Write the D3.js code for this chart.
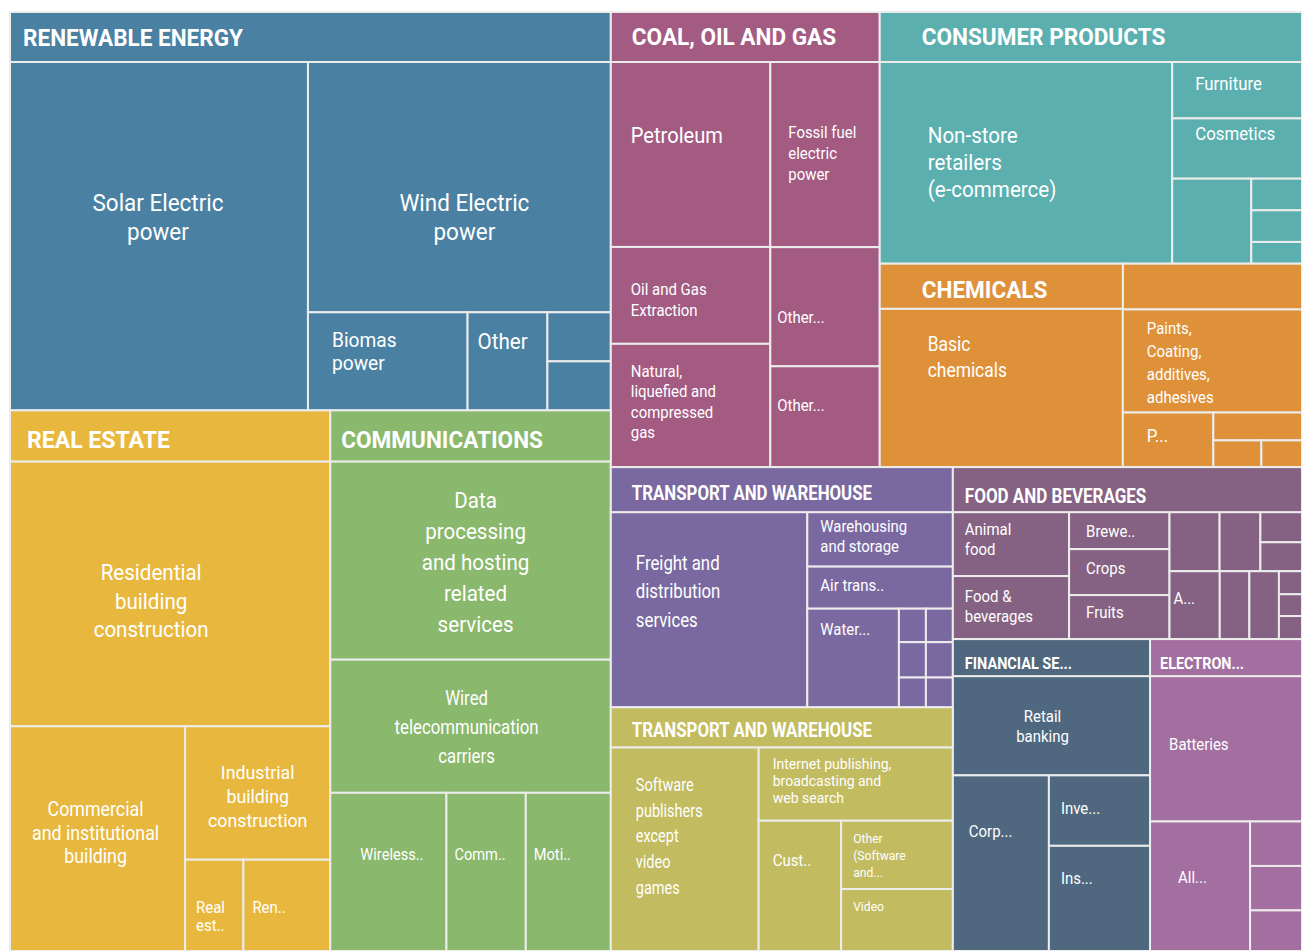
<!DOCTYPE html>
<meta charset="utf-8">
<style type="text/css">
  body { margin: 0; background: #fff; }
  text { font-family: Roboto, "Noto Sans", sans-serif; fill: #fff; }
  .head { font-weight: 700; }
</style>
<body>
<div class="chart"></div>
<script src="https://cdnjs.cloudflare.com/ajax/libs/d3/7.8.5/d3.min.js"></script>
<script>

// leaf values (area units), "\n" = line break of the label
var renewable = [["Solar Electric\npower", 1034], ["Wind Electric\npower", 755], ["Biomas\npower", 156], ["Other", 78], ["", 31], ["", 31]];
var realEstate = [["Residential\nbuilding\nconstruction", 845], ["Commercial\nand institutional\nbuilding", 392], ["Industrial\nbuilding\nconstruction", 193], ["Real\nest..", 53], ["Ren..", 79]];
var communications = [["Data\nprocessing\nand hosting\nrelated\nservices", 554], ["Wired\ntelecommunication\ncarriers", 372], ["Wireless..", 183], ["Comm..", 125], ["Moti..", 134]];
var coal = [["Petroleum", 294], ["Oil and Gas\nExtraction", 154], ["Natural,\nliquefied and\ncompressed\ngas", 196], ["Fossil fuel\nelectric\npower", 202], ["Other...", 130], ["Other...", 110]];
var consumer = [["Non-store\nretailers\n(e-commerce)", 588], ["Furniture", 73], ["Cosmetics", 78], ["", 67], ["", 16], ["", 16], ["", 11]];
var chemicals = [["Basic\nchemicals", 390], ["", 83], ["Paints,\nCoating,\nadditives,\nadhesives", 187], ["P...", 50], ["", 25], ["", 13], ["", 11]];
var transport1 = [["Freight and\ndistribution\nservices", 382], ["Warehousing\nand storage", 79], ["Air trans..", 61], ["Water...", 90], ["", 9], ["", 9.5], ["", 8], ["", 9], ["", 9.5], ["", 8]];
var transport2 = [["Software\npublishers\nexcept\nvideo\ngames", 300], ["Internet publishing,\nbroadcasting and\nweb search", 142], ["Cust..", 107], ["Other\n(Software\nand...", 76], ["Video", 69]];
var food = [["Animal\nfood", 74], ["Food &\nbeverages", 73], ["Brewe..", 37], ["Crops", 46], ["Fruits", 44], ["", 29.5], ["", 24], ["", 12.5], ["", 12], ["A...", 34], ["", 20], ["", 20], ["", 5.3], ["", 5], ["", 5.3]];
var financial = [["Retail\nbanking", 195], ["Corp...", 168], ["Inve...", 71], ["Ins...", 106]];
var electron = [["Batteries", 220], ["All...", 129], ["", 23], ["", 23], ["", 21]];

// sectors: key, title, leaves
var sectors = [
  ["renewable", "RENEWABLE ENERGY", renewable],
  ["realEstate", "REAL ESTATE", realEstate],
  ["communications", "COMMUNICATIONS", communications],
  ["coal", "COAL, OIL AND GAS", coal],
  ["consumer", "CONSUMER PRODUCTS", consumer],
  ["chemicals", "CHEMICALS", chemicals],
  ["transport1", "TRANSPORT AND WAREHOUSE", transport1],
  ["transport2", "TRANSPORT AND WAREHOUSE", transport2],
  ["food", "FOOD AND BEVERAGES", food],
  ["financial", "FINANCIAL SE...", financial],
  ["electron", "ELECTRON...", electron]
];

// arrangement: "h" = side by side, "v" = stacked, numbers = leaf index
var plans = {
  renewable: ["h", 0, ["v", 1, ["h", 2, 3, ["v", 4, 5]]]],
  realEstate: ["v", 0, ["h", 1, ["v", 2, ["h", 3, 4]]]],
  communications: ["v", 0, 1, ["h", 2, 3, 4]],
  coal: ["h", ["v", 0, 1, 2], ["v", 3, 4, 5]],
  consumer: ["h", 0, ["v", 1, 2, ["h", 3, ["v", 4, 5, 6]]]],
  chemicals: ["h", ["head", 0], ["v", 1, 2, ["h", 3, ["v", 4, ["h", 5, 6]]]]],
  transport1: ["h", 0, ["v", 1, 2, ["h", 3, ["v", 4, 5, 6], ["v", 7, 8, 9]]]],
  transport2: ["h", 0, ["v", 1, ["h", 2, ["v", 3, 4]]]],
  food: ["h", ["v", 0, 1], ["v", 2, 3, 4], ["v", ["h", 5, 6, ["v", 7, 8]], ["h", 9, 10, 11, ["v", 12, 13, 14]]]],
  financial: ["v", 0, ["h", 1, ["v", 2, 3]]],
  electron: ["v", 0, ["h", 1, ["v", 2, 3, 4]]]
};
var topPlan = ["h",
  ["v", "renewable", ["h", "realEstate", "communications"]],
  ["v", ["h", "coal", ["v", "consumer", "chemicals"]],
        ["h", ["v", "transport1", "transport2"], ["v", "food", ["h", "financial", "electron"]]]]];

// styles
var colors = {
  renewable: "#4a81a2", realEstate: "#e8b83e", communications: "#8ab86c",
  coal: "#a35b82", consumer: "#5bb0af", chemicals: "#de9139",
  transport1: "#7a69a0", transport2: "#c2bb5f", food: "#856283",
  financial: "#4f687f", electron: "#a36ea0"
};
// header: height, font size, left inset, horizontal squeeze, vertical nudge
var headStyle = {
  renewable: [50, 24, 13, 0.94, 0], realEstate: [51, 24, 17, 0.96, 3], communications: [51, 24, 11, 0.94, 3],
  coal: [50, 24, 21, 0.94, -1], consumer: [50, 24, 42, 0.94, -1], chemicals: [45, 24, 42, 0.94, 3],
  transport1: [45, 20, 21, 0.842, 3], transport2: [40, 20, 21, 0.842, 2], food: [45, 20, 12, 0.85, 6],
  financial: [37, 17, 12, 0.853, 5], electron: [37, 17, 10, 0.847, 5]
};
// leaf labels: anchor (m = centred, s = left), size, dx, dy of first line, line height, [squeeze]
var labelStyle = {
  renewable: [["m", 24, -1, 140, 29], ["m", 24, 5, 140, 29], ["s", 20.5, 24, 27, 23], ["s", 22, 10, 29, 20]],
  realEstate: [["m", 22, -19, 111, 28.5], ["m", 20, -2, 83, 23.5, 0.89], ["m", 19, 0, 46, 24], ["s", 16, 11, 48, 18], ["s", 16, 9, 48, 18]],
  communications: [["m", 22, 5, 39, 31], ["m", 20, -4, 38, 29, 0.84], ["s", 17, 30, 61, 20, 0.86], ["s", 17, 8, 61, 20, 0.86], ["s", 17, 8, 61, 20, 0.86]],
  coal: [["s", 21.5, 20, 73, 27], ["s", 16, 20, 42, 21], ["s", 16, 20, 27, 20.5], ["s", 16, 18, 70, 21], ["s", 16, 7, 70, 20], ["s", 16, 7, 39, 20]],
  consumer: [["s", 22, 48, 73, 27], ["s", 18, 23, 22, 20], ["s", 18, 23, 15, 20]],
  chemicals: [["s", 20, 48, 35, 26, 0.87], null, ["s", 16, 24, 19, 23], ["s", 18, 24, 23, 20]],
  transport1: [["s", 21, 25, 50, 28.5, 0.8], ["s", 16, 13, 14, 20], ["s", 16, 13, 19, 20], ["s", 16, 13, 21, 20]],
  transport2: [["s", 18, 25, 37, 25.8, 0.805], ["s", 15, 14, 16, 17], ["s", 16, 14, 40, 20], ["s", 13, 12, 18, 17], ["s", 13, 12, 17, 17]],
  food: [["s", 16, 12, 17, 20], ["s", 16, 12, 20, 20], ["s", 16, 17, 19, 20], ["s", 16, 17, 19, 20], ["s", 16, 17, 17, 20], null, null, null, null, ["s", 16, 4, 27, 20]],
  financial: [["m", 16, -9, 40, 20], ["s", 16, 16, 56, 20], ["s", 16, 12, 33, 20], ["s", 16, 12, 32, 20]],
  electron: [["s", 16, 19, 68, 20], ["s", 16, 28, 56, 20]]
};
var squeeze = 0.935;      // condensed look of the labels

var margin = {top: 12, right: 0, bottom: 0, left: 10};
var width = 1302 - margin.left - margin.right,
    height = 951 - margin.top - margin.bottom;

var sectorByKey = {};
sectors.forEach(function(s) { sectorByKey[s[0]] = s; });

function buildSector(key) {
  var s = sectorByKey[key], plan = plans[key];
  var inner = JSON.stringify(plan).indexOf('"head"') >= 0;
  function walk(p) {
    if (typeof p === "number") {
      return {name: s[2][p][0], value: s[2][p][1], sector: key, idx: p};
    }
    var kids = p.slice(1).map(walk);
    if (p[0] === "head") return {dir: "v", header: key, sector: key, children: kids};
    return {dir: p[0], sector: key, children: kids};
  }
  var node = walk(plan);
  if (!inner) node.header = key;
  return node;
}
function buildTop(p) {
  if (typeof p === "string") return buildSector(p);
  return {dir: p[0], children: p.slice(1).map(buildTop)};
}

var root = d3.hierarchy(buildTop(topPlan)).sum(function(d) { return d.value || 0; });

function headH(node) { return node.data.header ? headStyle[node.data.header][0] : 0; }

// fixed header height that a box carries along when it is stretched
function overhead(node) {
  if (node._oh !== undefined) return node._oh;
  var v = 0;
  if (node.children) {
    var hs = node.children.map(overhead);
    if (node.data.dir === "v") v = d3.sum(hs);
    else v = d3.sum(node.children, function(c, i) { return c.value * hs[i]; }) / node.value;
  }
  node._oh = headH(node) + v;
  return node._oh;
}

function tile(node, x0, y0, x1, y1) {
  var kids = node.children, W = x1 - x0, H = y1 - y0;
  var hs = kids.map(overhead);
  if (node.data.dir === "v") {
    var k = (H - d3.sum(hs)) / node.value, y = y0;
    kids.forEach(function(c, i) {
      c.x0 = x0; c.x1 = x1; c.y0 = y;
      y += hs[i] + k * c.value;
      c.y1 = i === kids.length - 1 ? y1 : y;
    });
  } else {
    var w = kids.map(function(c, i) { return c.value / (H - hs[i]); });
    var s = d3.sum(w), x = x0;
    kids.forEach(function(c, i) {
      c.y0 = y0; c.y1 = y1; c.x0 = x;
      x += W * w[i] / s;
      c.x1 = i === kids.length - 1 ? x1 : x;
    });
  }
}

d3.treemap()
  .size([width, height])
  .tile(tile)
  .paddingTop(headH)(root);

var svg = d3.select(".chart").append("svg")
    .attr("width", width + margin.left + margin.right)
    .attr("height", height + margin.top + margin.bottom)
  .append("g")
    .attr("transform", "translate(" + margin.left + "," + margin.top + ")");

var line = "#ececec";

// cells
svg.selectAll(".cell")
  .data(root.leaves())
  .enter().append("rect")
    .attr("class", "cell")
    .attr("x", function(d) { return d.x0; })
    .attr("y", function(d) { return d.y0; })
    .attr("width", function(d) { return d.x1 - d.x0; })
    .attr("height", function(d) { return d.y1 - d.y0; })
    .attr("fill", function(d) { return colors[d.data.sector]; })
    .attr("stroke", line)
    .attr("stroke-width", 2);

// headers
var heads = root.descendants().filter(function(d) { return d.data.header; });
svg.selectAll(".band")
  .data(heads)
  .enter().append("rect")
    .attr("class", "band")
    .attr("x", function(d) { return d.x0; })
    .attr("y", function(d) { return d.y0; })
    .attr("width", function(d) { return d.x1 - d.x0; })
    .attr("height", headH)
    .attr("fill", function(d) { return colors[d.data.header]; })
    .attr("stroke", line)
    .attr("stroke-width", 2);

svg.selectAll(".head")
  .data(heads)
  .enter().append("text")
    .attr("class", "head")
    .attr("transform", function(d) {
      var st = headStyle[d.data.header];
      return "translate(" + (d.x0 + st[2]) + "," + (d.y0 + st[0] / 2 + st[4]) + ") scale(" + st[3] + ",1)";
    })
    .attr("dy", "0.36em")
    .style("font-size", function(d) { return headStyle[d.data.header][1] + "px"; })
    .text(function(d) { return sectorByKey[d.data.header][1]; });

// leaf labels
var labelled = root.leaves().filter(function(d) {
  var ls = labelStyle[d.data.sector][d.data.idx];
  return ls && d.data.name;
});
var lab = svg.selectAll(".lab")
  .data(labelled)
  .enter().append("g")
    .attr("class", "lab");

lab.each(function(d) {
  var ls = labelStyle[d.data.sector][d.data.idx];
  var g = d3.select(this);
  var x = ls[0] === "m" ? (d.x0 + d.x1) / 2 + ls[2] : d.x0 + ls[2];
  var sx = ls[5] || squeeze;
  d.data.name.split("\n").forEach(function(t, i) {
    g.append("text")
      .attr("transform", "translate(" + x + "," + (d.y0 + ls[3] + i * ls[4]) + ") scale(" + sx + ",1)")
      .attr("dy", "0.36em")
      .attr("text-anchor", ls[0] === "m" ? "middle" : "start")
      .style("font-size", ls[1] + "px")
      .text(t);
  });
});

</script>
</body>
